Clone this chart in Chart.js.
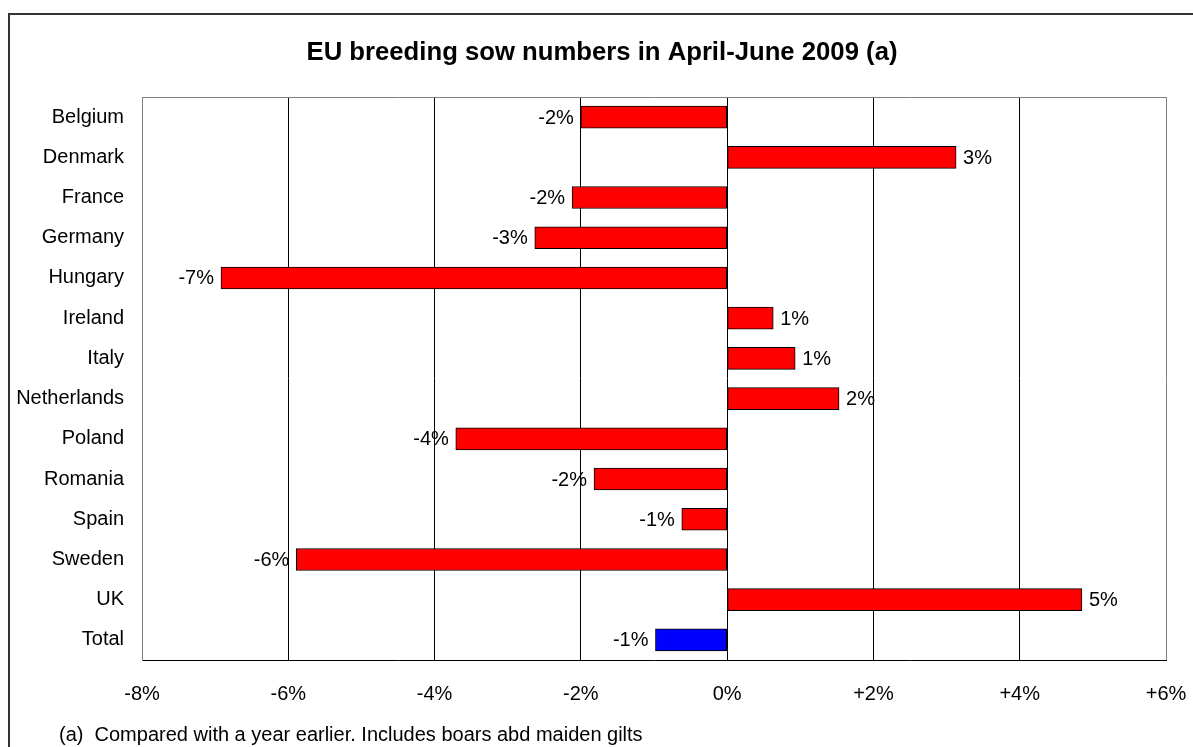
<!DOCTYPE html>
<html>
<head>
<meta charset="utf-8">
<script src="https://cdn.jsdelivr.net/npm/chart.js@4/dist/chart.umd.min.js"></script>
<style>
  html, body { margin: 0; padding: 0; background: #fff; }
  #wrap { position: relative; width: 1193px; height: 747px; }
  canvas { display: block; }
</style>
</head>
<body>
<div id="wrap"><canvas id="c" width="1193" height="747"></canvas></div>
<script>
const categories = ["Belgium", "Denmark", "France", "Germany", "Hungary", "Ireland", "Italy", "Netherlands", "Poland", "Romania", "Spain", "Sweden", "UK", "Total"];
const changePct = [-2.0, 3.13, -2.12, -2.63, -6.92, 0.63, 0.93, 1.53, -3.71, -1.82, -0.62, -5.89, 4.85, -0.98];
const barColors = ["#FF0000", "#FF0000", "#FF0000", "#FF0000", "#FF0000", "#FF0000", "#FF0000", "#FF0000", "#FF0000", "#FF0000", "#FF0000", "#FF0000", "#FF0000", "#0000FF"];
const xTickLabels = {"-8": "-8%", "-6": "-6%", "-4": "-4%", "-2": "-2%", "0": "0%", "2": "+2%", "4": "+4%", "6": "+6%"};
const titleText = "EU breeding sow numbers in April-June 2009 (a)";
const footnoteText = "(a)  Compared with a year earlier. Includes boars abd maiden gilts";

const FONT = "'Liberation Sans', Arial, Helvetica, sans-serif";

const decorPlugin = {
  id: 'decor',
  beforeDraw(chart) {
    const ctx = chart.ctx;
    ctx.save();
    ctx.fillStyle = '#fff';
    ctx.fillRect(0, 0, chart.width, chart.height);
    ctx.strokeStyle = '#333';
    ctx.lineWidth = 2;
    ctx.strokeRect(9, 14, 2000, 2000);
    ctx.restore();
  },
  afterDraw(chart) {
    const ctx = chart.ctx;
    const a = chart.chartArea;
    ctx.save();
    ctx.strokeStyle = '#808080';
    ctx.lineWidth = 1;
    ctx.beginPath();
    ctx.moveTo(Math.round(a.left) + 0.5, Math.round(a.top) + 0.5);
    ctx.lineTo(Math.round(a.right) + 0.5, Math.round(a.top) + 0.5);
    ctx.stroke();
    ctx.fillStyle = '#000';
    ctx.font = "bold 25.7px " + FONT;
    ctx.textAlign = 'center';
    ctx.textBaseline = 'middle';
    ctx.fillText(titleText, 602, 53);
    ctx.font = "20px " + FONT;
    ctx.textAlign = 'left';
    ctx.fillText(footnoteText, 59, 735);
    const meta = chart.getDatasetMeta(0);
    ctx.font = "20px " + FONT;
    meta.data.forEach((bar, i) => {
      const v = changePct[i];
      const txt = Math.round(v) + '%';
      if (v < 0) {
        ctx.textAlign = 'right';
        ctx.fillText(txt, bar.x - 7, bar.y + 1);
      } else {
        ctx.textAlign = 'left';
        ctx.fillText(txt, bar.x + 7, bar.y + 1);
      }
    });
    ctx.restore();
  }
};

new Chart(document.getElementById('c'), {
  type: 'bar',
  data: {
    labels: categories,
    datasets: [{
      data: changePct,
      backgroundColor: barColors,
      borderColor: '#000',
      borderWidth: 1,
      borderSkipped: false,
      barThickness: 22
    }]
  },
  options: {
    indexAxis: 'y',
    responsive: false,
    animation: false,
    devicePixelRatio: 1,
    layout: { padding: { left: 0, top: 97, right: 27, bottom: 0 } },
    plugins: {
      legend: { display: false },
      title: { display: false },
      tooltip: { enabled: false }
    },
    scales: {
      x: {
        min: -8,
        max: 6,
        afterBuildTicks(scale) {
          scale.ticks = Object.keys(xTickLabels).map(Number).sort((p, q) => p - q).map(v => ({ value: v }));
        },
        afterFit(scale) {
          scale.height = 87;
          scale.paddingLeft = 0;
          scale.paddingRight = 0;
        },
        ticks: {
          color: '#000',
          font: { family: FONT, size: 20 },
          padding: 22,
          maxRotation: 0,
          autoSkip: false,
          callback(v) { return xTickLabels[String(v)]; }
        },
        grid: {
          drawTicks: false,
          color(ctx) {
            const v = ctx.tick && ctx.tick.value;
            return (v === -8 || v === 6) ? '#808080' : '#000';
          },
          lineWidth: 1
        },
        border: { display: true, color: '#000', width: 1 }
      },
      y: {
        afterFit(scale) {
          scale.width = 142;
          scale.paddingTop = 0;
          scale.paddingBottom = 0;
        },
        ticks: {
          color: '#000',
          font: { family: FONT, size: 20 },
          padding: 18,
          autoSkip: false
        },
        grid: { display: false, drawTicks: false },
        border: { display: true, color: '#808080', width: 1 }
      }
    }
  },
  plugins: [decorPlugin]
});
</script>
</body>
</html>
